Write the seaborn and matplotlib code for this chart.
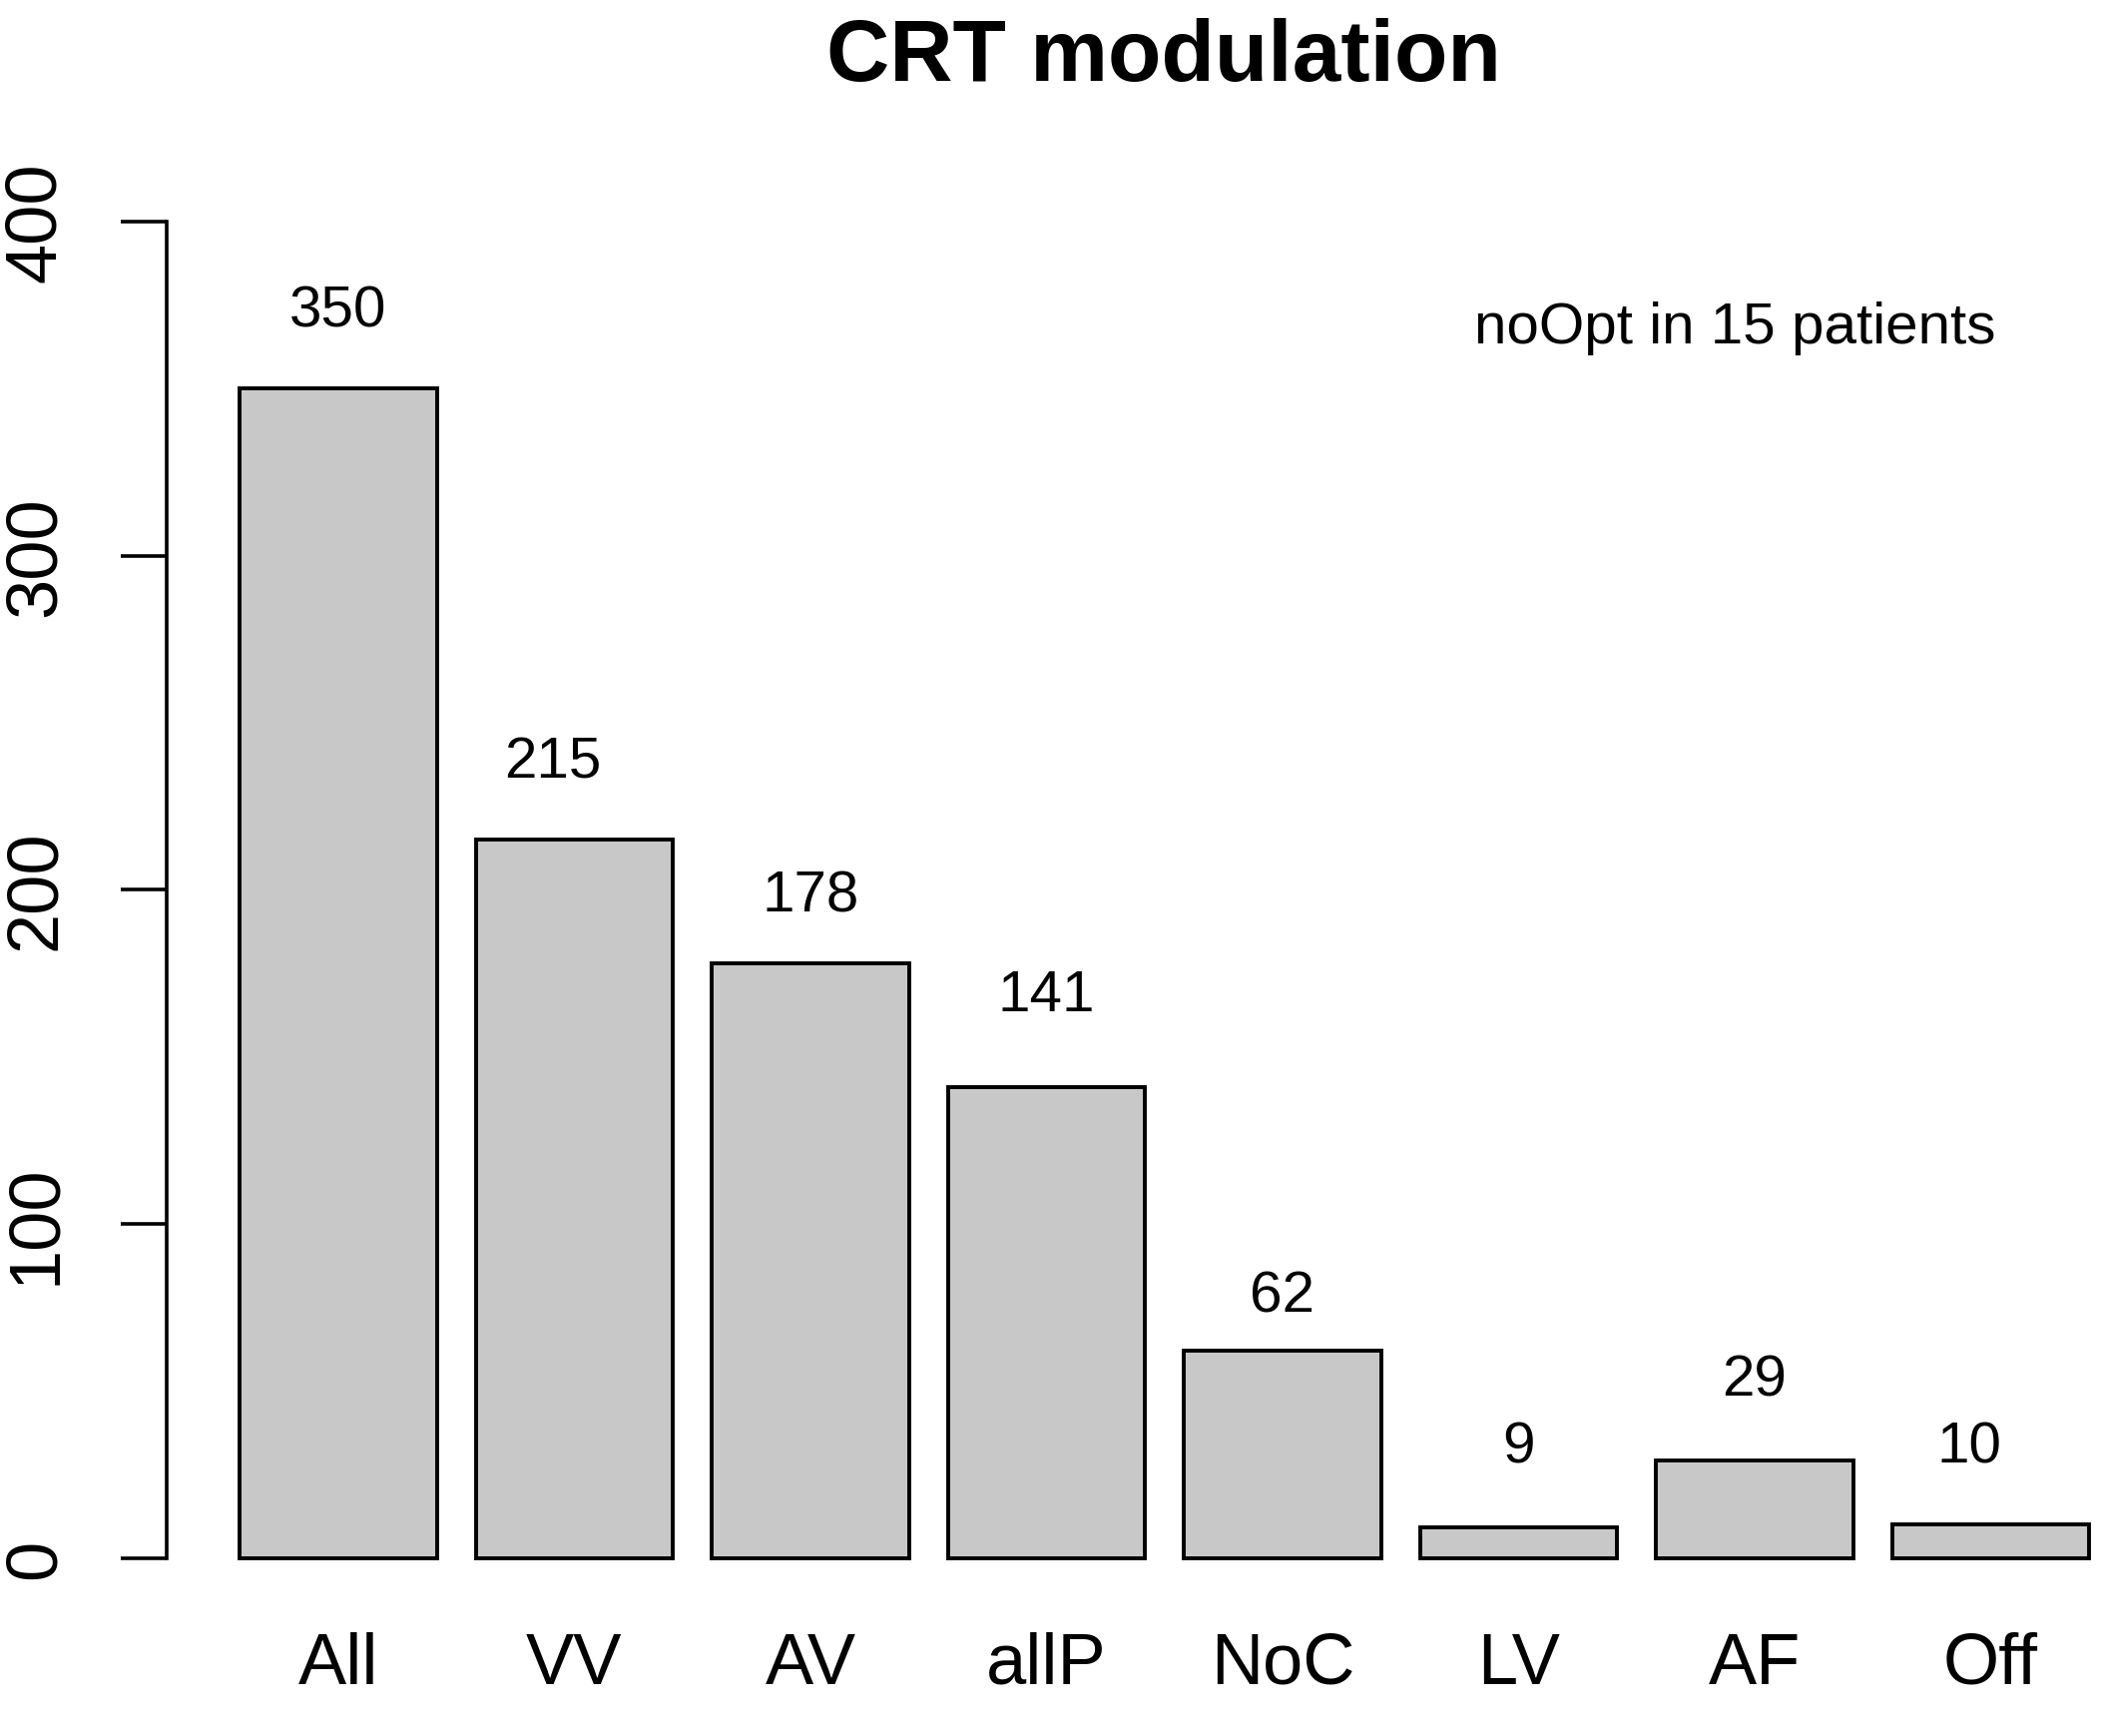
import matplotlib
matplotlib.use("Agg")
import matplotlib.pyplot as plt
import seaborn as sns
import pandas as pd

categories = ["All", "VV", "AV", "allP", "NoC", "LV", "AF", "Off"]
counts = [350, 215, 178, 141, 62, 9, 29, 10]
# heights (data units) at which the count labels are centred
label_heights = [375, 240, 200, 170, 80, 35, 55, 35]
# small horizontal nudges of some count labels (category units)
label_nudge = [0, -0.09, 0, 0, 0, 0, 0, -0.09]
y_ticks = [0, 100, 200, 300, 400]
title_text = "CRT modulation"
note_text = "noOpt in 15 patients"

sns.set_style("white")
plt.rcParams["font.family"] = ["Liberation Sans", "DejaVu Sans"]
plt.rcParams["text.color"] = "black"
plt.rcParams["xtick.color"] = "black"
plt.rcParams["ytick.color"] = "black"
plt.rcParams["xtick.labelcolor"] = "black"
plt.rcParams["ytick.labelcolor"] = "black"

df = pd.DataFrame({"mode": categories, "n": counts})

fig = plt.figure(figsize=(21.05, 17.40), dpi=100)
ax = fig.add_axes([0.0793, 0.0718, 1.0 - 0.0793, 0.8309])

sns.barplot(data=df, x="mode", y="n", color="#C8C8C8", saturation=1,
            edgecolor="black", linewidth=2.8, width=0.834, ax=ax)

ax.set_xlim(-0.727, 7.467)
ax.set_ylim(-16, 416)
ax.set_xlabel("")
ax.set_ylabel("")

for s in ["top", "right", "bottom"]:
    ax.spines[s].set_visible(False)
ax.spines["left"].set_bounds(0, 400)
ax.spines["left"].set_linewidth(2.6)
ax.spines["left"].set_color("black")

ax.set_yticks(y_ticks)
ax.set_yticklabels([str(v) for v in y_ticks], rotation=90, va="center")
ax.tick_params(axis="y", length=33, width=2.6, color="black", pad=37,
               labelsize=52, left=True)
ax.tick_params(axis="x", length=0, pad=14, labelsize=52)

label_size = 42
half_digit = 0.716 * label_size / 2
for i, (v, h, dx) in enumerate(zip(counts, label_heights, label_nudge)):
    ax.annotate(str(v), xy=(i + dx, h), xytext=(0, -half_digit),
                textcoords="offset points", ha="center", va="baseline",
                fontsize=label_size)

ax.annotate(note_text, xy=(5.918, 370), xytext=(0, -half_digit),
            textcoords="offset points", ha="center", va="baseline",
            fontsize=label_size)

fig.text(0.554, 0.9537, title_text, ha="center", va="baseline",
         fontsize=63, fontweight="bold")

fig.savefig("out.png", dpi=100, facecolor="white")
